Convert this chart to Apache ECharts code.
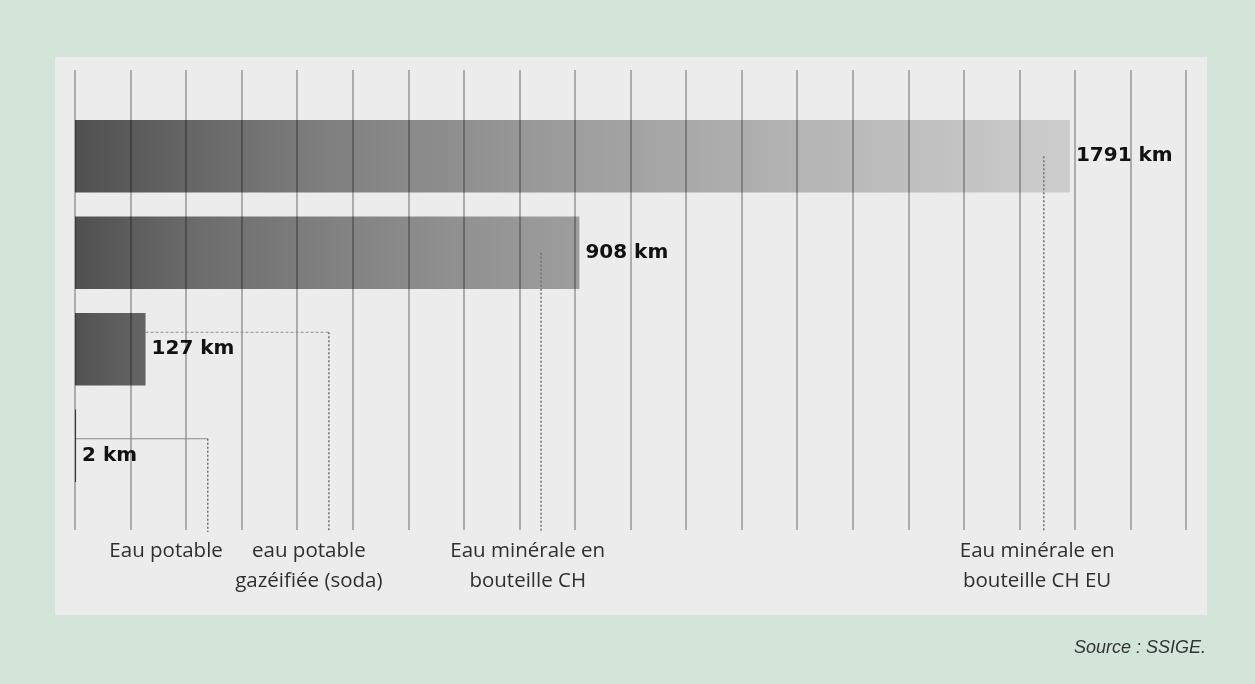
<!DOCTYPE html>
<html>
<head>
<meta charset="utf-8">
<script src="https://cdn.jsdelivr.net/npm/echarts@6/dist/echarts.min.js"></script>
<style>
html,body{margin:0;padding:0;background:#d2e5d8;}
#panel{position:absolute;left:55px;top:57px;width:1152px;height:558px;background:#ececec;}
#main{position:absolute;left:0;top:0;width:1255px;height:684px;}
</style>
</head>
<body>
<div id="panel"></div>
<div id="main"></div>
<script>
// data, top bar first
var categories = ['Eau minérale en\nbouteille CH EU', 'Eau minérale en\nbouteille CH', 'eau potable\ngazéifiée (soda)', 'Eau potable'];
var distances = [1791, 908, 127, 2];
var unit = 'km';
// leader line and name anchors, in km along the axis
var leaderAt = [1744, 839, 457, 239];
var nameAt = [1732, 815, 421, 164];
var axisMax = 2000, axisStep = 100;

// styling of the leaders (px above bar centre where the elbow sits)
var leaderRise = [0, 0, 17, 7];
var elbowDash = [null, null, [3, 2], null];

var myChart = echarts.init(document.getElementById('main'));

function shade(f){
	var g = Math.round(80 + 125 * Math.pow(f, 0.7));
	return 'rgb(' + g + ',' + g + ',' + g + ')';
}
function barFill(v){
	var top = Math.max.apply(null, distances), stops = [];
	for (var t = 0; t <= 1.0001; t += 0.25) {
		stops.push({offset: t, color: shade(t * v / top)});
	}
	return new echarts.graphic.LinearGradient(0, 0, 1, 0, stops);
}

function renderLeader(params, api){
	var i = api.value(0), cs = params.coordSys;
	var mid = api.coord([0, i])[1];
	var barEnd = api.coord([distances[i], i])[0];
	var lx = api.coord([leaderAt[i], i])[0];
	var nx = api.coord([nameAt[i], i])[0];
	var bottom = cs.y + cs.height + 38;
	var y0 = mid - leaderRise[i];
	var kids = [];
	if (leaderRise[i] > 0) {
		kids.push({type: 'line', shape: {x1: barEnd, y1: y0, x2: lx, y2: y0},
			style: {stroke: '#8a8a8a', lineWidth: 1.2, lineDash: elbowDash[i]}});
	}
	kids.push({type: 'line', shape: {x1: lx, y1: y0, x2: lx, y2: bottom},
		style: {stroke: '#6e6e6e', lineWidth: 1.5, lineDash: [2, 2]}});
	kids.push({type: 'text', x: nx, y: bottom + 4,
		style: {text: categories[i], fill: '#2f2f2f', font: '20.5px "Open Sans"',
			align: 'center', verticalAlign: 'top', lineHeight: 30}});
	return {type: 'group', children: kids};
}

var option = {
	animation: false,
	grid: [
		{left: 75, width: 1111, top: 70, height: 460},
		{left: 75, width: 1111, top: 108, height: 386}
	],
	xAxis: [
		{gridIndex: 0, type: 'value', min: 0, max: axisMax, interval: axisStep, z: 5,
			axisLine: {show: false}, axisTick: {show: false}, axisLabel: {show: false},
			splitLine: {show: true, lineStyle: {color: 'rgba(0,0,0,0.27)', width: 2}}},
		{gridIndex: 1, type: 'value', min: 0, max: axisMax, show: false, splitLine: {show: false}}
	],
	yAxis: [
		{gridIndex: 0, type: 'value', show: false, min: 0, max: 1, splitLine: {show: false}},
		{gridIndex: 1, type: 'category', inverse: true, data: categories, show: false}
	],
	graphic: [{
		type: 'text', right: 49, top: 639,
		style: {text: 'Source : SSIGE.', fill: '#333', font: 'italic 18px "Liberation Sans"'}
	}],
	series: [
		{
			type: 'bar', xAxisIndex: 1, yAxisIndex: 1, barCategoryGap: '25%', silent: true,
			data: distances.map(function(v, i){
				var d = {value: v, itemStyle: {color: barFill(v)}};
				if (i == distances.length - 1) d.label = {offset: [0, 10]};
				return d;
			}),
			label: {show: true, position: 'right', distance: 6, formatter: '{c} ' + unit,
				fontFamily: 'DejaVu Sans', fontWeight: 'bold', fontSize: 20, color: '#111'}
		},
		{
			type: 'custom', xAxisIndex: 1, yAxisIndex: 1, clip: false, silent: true, z: 6,
			renderItem: renderLeader,
			data: distances.map(function(v, i){ return [i]; })
		}
	]
};
myChart.setOption(option);
</script>
</body>
</html>
